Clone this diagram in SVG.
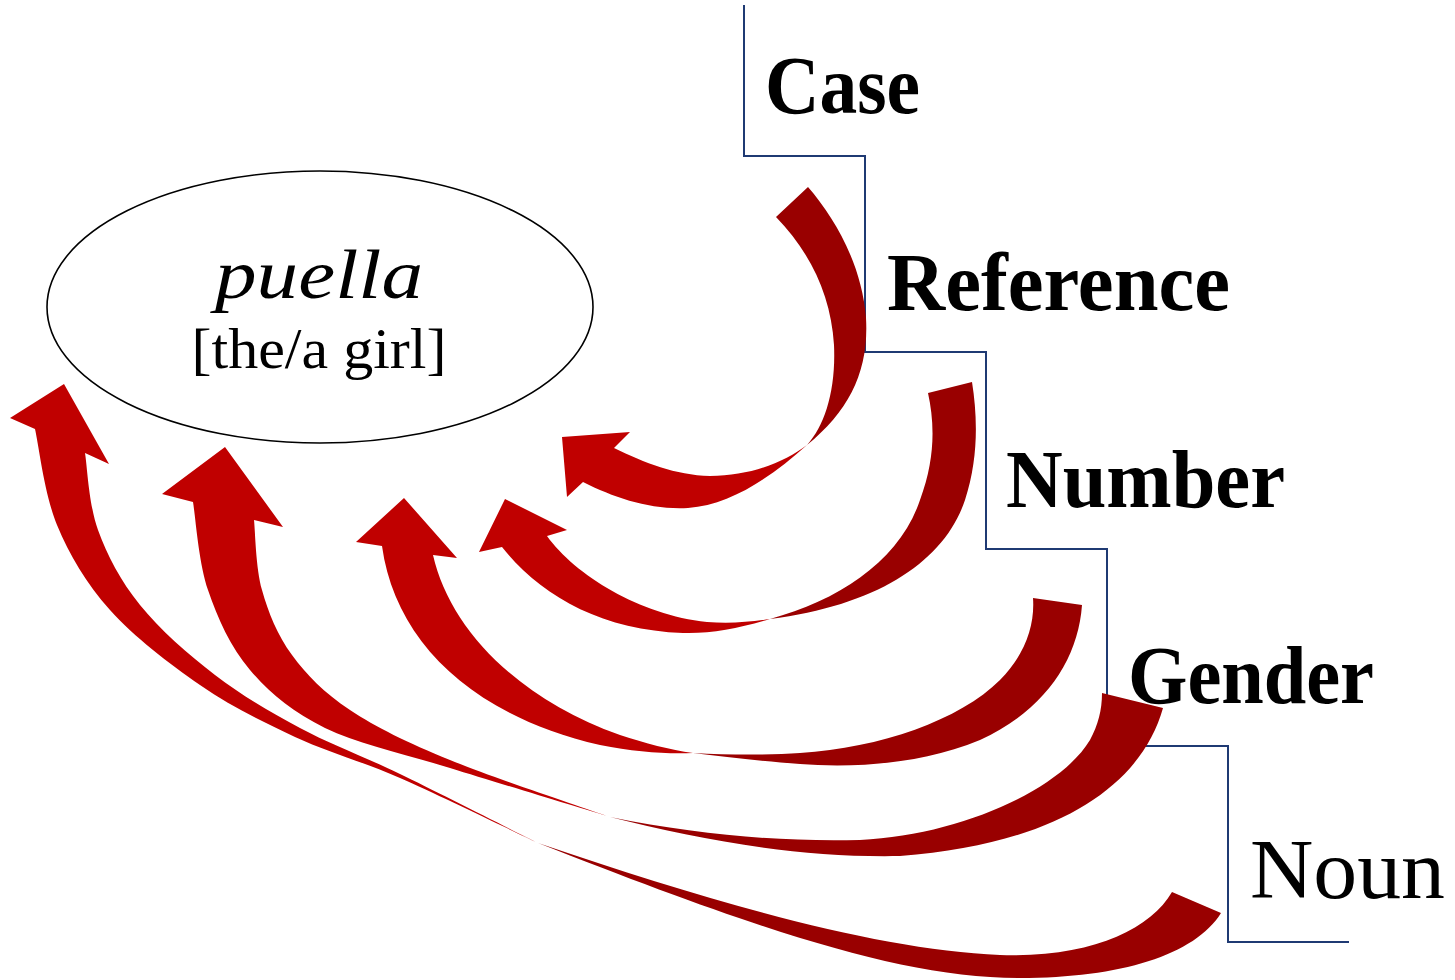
<svg xmlns="http://www.w3.org/2000/svg" width="1455" height="980" viewBox="0 0 1455 980">
<style>
.lbl{font-family:"Liberation Serif","Times New Roman",serif;font-weight:bold;font-size:82px;fill:#000}
.reg{font-family:"Liberation Serif","Times New Roman",serif;font-size:84px;fill:#000}
.head{fill:#C00000}
.tail{fill:#990000}
.stair{fill:none;stroke:#1F3A73;stroke-width:2}
</style>
<rect width="1455" height="980" fill="#fff"/>
<g id="stairs">
<path class="stair" d="M744,5 V156 H865 V352 H986 V549 H1107 V746 H1228 V942 H1349"/>
</g>
<g id="node-puella">
<ellipse cx="320" cy="307" rx="273" ry="136" fill="#fff" stroke="#000" stroke-width="1.6"/>
<text x="319" y="298" text-anchor="middle" font-family="Liberation Serif, serif" font-style="italic" font-size="70" textLength="208" lengthAdjust="spacingAndGlyphs">puella</text>
<text x="319" y="368" text-anchor="middle" font-family="Liberation Serif, serif" font-size="56" textLength="255" lengthAdjust="spacingAndGlyphs">[the/a girl]</text>
</g>
<g id="label-case"><text class="lbl" x="765" y="113" textLength="155" lengthAdjust="spacingAndGlyphs">Case</text></g>
<g id="label-reference"><text class="lbl" x="887" y="310" textLength="343" lengthAdjust="spacingAndGlyphs">Reference</text></g>
<g id="label-number"><text class="lbl" x="1006" y="507" textLength="279" lengthAdjust="spacingAndGlyphs">Number</text></g>
<g id="label-gender"><text class="lbl" x="1128" y="703" textLength="246" lengthAdjust="spacingAndGlyphs">Gender</text></g>
<g id="label-noun"><text class="reg" x="1250" y="898" textLength="195" lengthAdjust="spacingAndGlyphs">Noun</text></g>
<g id="connectors">
<g id="arrow-case">
<path class="tail" d="M808,187 C835,218 862,265 866,318 C869,370 850,410 807,445 C825,425 836,390 834,345 C831,295 810,252 776,217 Z"/>
<path class="head" d="M807,445 C770,478 730,505 688,508 C650,510 615,498 583,482 L567,497 L562,437 L630,432 L614,448 C645,463 675,475 710,476 C750,476 785,462 807,445 Z"/>
</g>
<g id="arrow-reference">
<path class="tail" d="M972,382 C978,420 978,460 965,500 C945,560 880,605 770,619 C840,600 900,560 920,500 C935,460 935,425 928,393 Z"/>
<path class="head" d="M770,619 C740,628 710,634 683,633 C600,630 540,595 502,547 L479,552 L505,499 L567,530 L547,536 C575,575 640,615 707,622 C730,624 750,622 770,619 Z"/>
</g>
<g id="arrow-number">
<path class="tail" d="M1082,605 C1078,660 1045,710 980,740 C920,765 850,768 800,764 C760,761 725,757 693,753 C730,755 770,755 800,753 C880,748 960,720 1000,680 C1025,655 1035,625 1033,598 Z"/>
<path class="head" d="M693,753 C665,754 635,752 600,745 C470,715 395,640 382,546 L356,542 L404,498 L457,558 L433,555 C450,630 520,700 620,735 C645,743 670,750 693,753 Z"/>
</g>
<g id="arrow-gender">
<path class="tail" d="M1163,708 C1140,790 1050,845 900,856 C800,858 700,840 610,817 C700,835 780,842 860,840 C960,835 1060,790 1090,740 C1098,725 1102,710 1102,693 Z"/>
<path class="head" d="M193,502 C195.5,516.7 198.5,562 208,590 C217.5,618 230.5,647 250,670 C269.5,693 291.7,711.7 325,728 C358.3,744.3 402.5,753.2 450,768 C497.5,782.8 583.3,808.8 610,817 C583.3,807.5 493.3,777.8 450,760 C406.7,742.2 376.3,727.5 350,710 C323.7,692.5 306.7,675 292,655 C277.3,635 268.3,612.5 262,590 C255.7,567.5 255.3,531.7 254,520 L283,527 L225,447 L162,494 Z"/>
</g>
<g id="arrow-noun">
<path class="tail" d="M1221,913 C1195,955 1120,978 1020,978 C900,978 760,930 538,843 C720,905 880,950 1000,955 C1090,958 1150,930 1172,892 Z"/>
<path class="head" d="M35,429 C38.7,445 44.5,494.8 57,525 C69.5,555.2 86.2,583.3 110,610 C133.8,636.7 169.2,663.8 200,685 C230.8,706.2 261.7,721.5 295,737 C328.3,752.5 359.5,760.3 400,778 C440.5,795.7 515,832.2 538,843 C515,831.5 439.7,793.2 400,774 C360.3,754.8 330.8,744.5 300,728 C269.2,711.5 241.7,695.5 215,675 C188.3,654.5 159.5,629.2 140,605 C120.5,580.8 107.2,555.3 98,530 C88.8,504.7 87.2,465.8 85,453 L109,464 L64,384 L10,418 Z"/>
</g>
</g>
</svg>
